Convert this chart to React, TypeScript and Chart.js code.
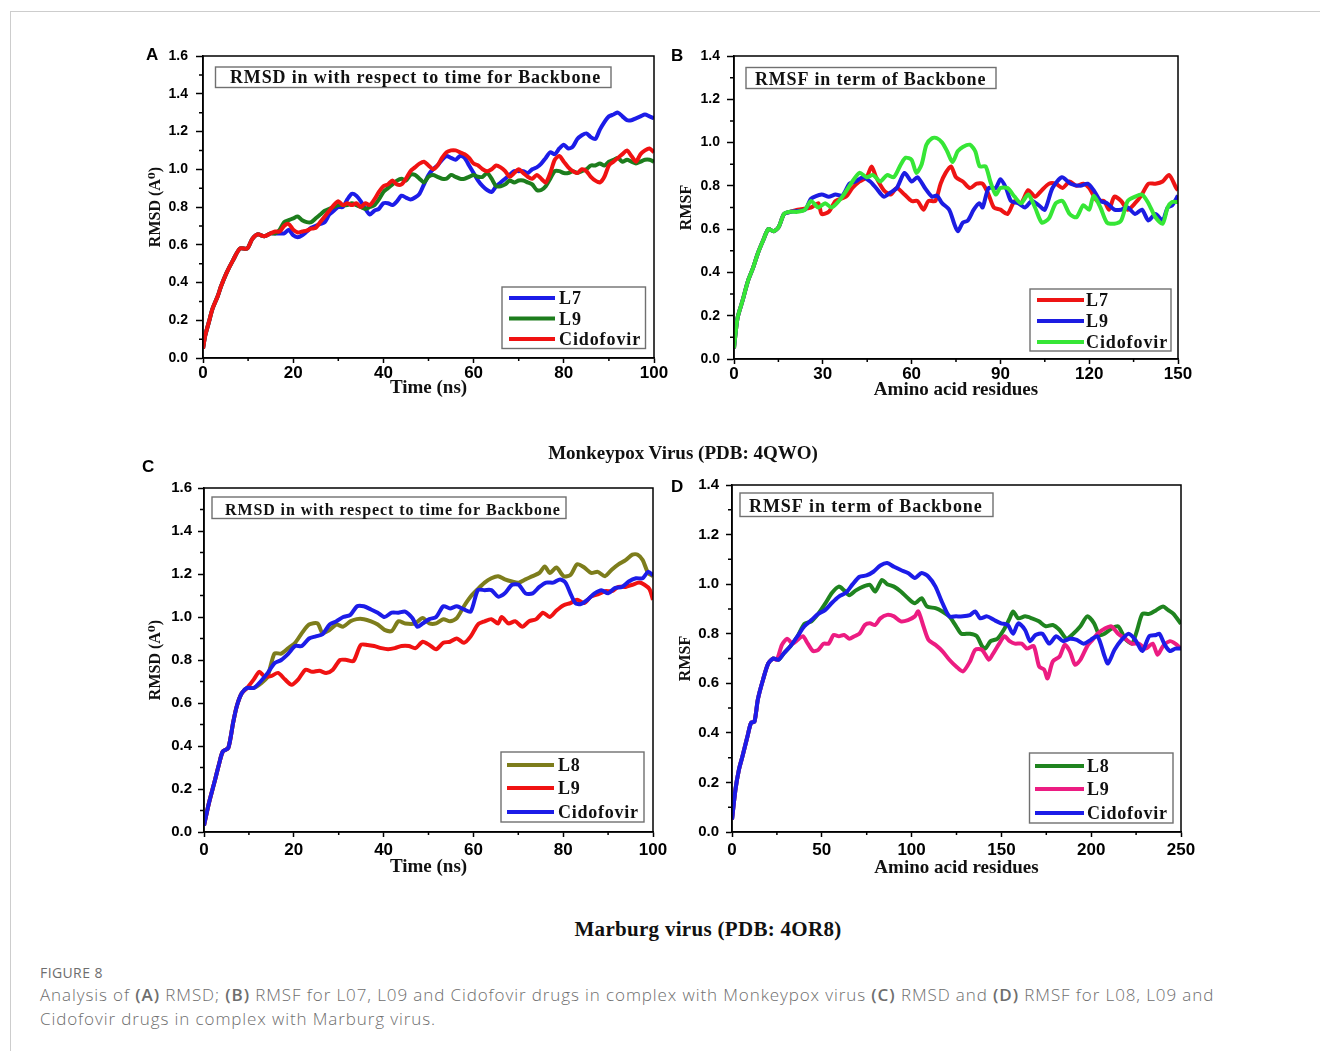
import React, { useEffect, useRef } from 'react';
import { Chart, registerables } from 'chart.js';
Chart.register(...registerables);

type Pt = [number, number];

// ---------- Panel A: RMSD, Monkeypox ----------
const A_START: Pt[] = [[0,0.05],[0.5,0.12],[1.3,0.19],[2.1,0.26],[3.3,0.33],[4,0.38],[5.2,0.45],[6.7,0.52],[8.2,0.58],[9.8,0.58],[10.9,0.63],[12.1,0.655],[13.6,0.645],[15,0.66]];
const A_L7: Pt[] = [...A_START,[16,0.66],[17,0.66],[18,0.66],[19,0.68],[20,0.65],[21,0.64],[22,0.65],[23,0.67],[24,0.69],[25,0.7],[26,0.71],[27,0.72],[28,0.76],[29,0.78],[30,0.8],[31,0.8],[32,0.84],[33,0.87],[34,0.86],[35,0.83],[36,0.79],[37,0.76],[38,0.78],[39,0.79],[40,0.82],[41,0.82],[42,0.81],[43,0.83],[44,0.86],[45,0.85],[46,0.84],[47,0.85],[48,0.87],[49,0.92],[50,0.97],[51,1.0],[52,1.02],[53,1.05],[54,1.07],[55,1.06],[56,1.05],[57,1.07],[58,1.06],[59,1.02],[60,0.98],[61,0.94],[62,0.91],[63,0.89],[64,0.88],[65,0.91],[66,0.93],[67,0.95],[68,0.97],[69,0.99],[70,0.99],[71,0.99],[72,0.98],[73,1.0],[74,1.01],[75,1.03],[76,1.06],[77,1.09],[78,1.08],[79,1.11],[80,1.13],[81,1.11],[82,1.12],[83,1.16],[84,1.18],[85,1.19],[86,1.17],[87,1.16],[88,1.21],[89,1.25],[90,1.28],[91,1.29],[92,1.3],[93,1.28],[94,1.26],[95,1.26],[96,1.27],[97,1.28],[98,1.29],[99,1.28],[100,1.27]];
const A_L9: Pt[] = [...A_START,[16,0.66],[17,0.68],[18,0.72],[19,0.73],[20,0.74],[21,0.75],[22,0.73],[23,0.72],[24,0.72],[25,0.74],[26,0.76],[27,0.78],[28,0.79],[29,0.8],[30,0.81],[31,0.81],[32,0.81],[33,0.82],[34,0.81],[35,0.8],[36,0.79],[37,0.8],[38,0.81],[39,0.84],[40,0.88],[41,0.9],[42,0.92],[43,0.94],[44,0.95],[45,0.94],[46,0.97],[47,0.97],[48,0.95],[49,0.93],[50,0.96],[51,0.97],[52,0.96],[53,0.95],[54,0.95],[55,0.97],[56,0.96],[57,0.95],[58,0.95],[59,0.96],[60,0.97],[61,0.96],[62,0.96],[63,0.98],[64,0.95],[65,0.91],[66,0.91],[67,0.92],[68,0.94],[69,0.93],[70,0.94],[71,0.94],[72,0.93],[73,0.92],[74,0.89],[75,0.89],[76,0.91],[77,0.95],[78,0.99],[79,0.99],[80,0.98],[81,0.98],[82,0.99],[83,0.98],[84,0.99],[85,1.0],[86,1.02],[87,1.02],[88,1.03],[89,1.02],[90,1.04],[91,1.05],[92,1.06],[93,1.04],[94,1.05],[95,1.04],[96,1.03],[97,1.04],[98,1.05],[99,1.05],[100,1.04]];
const A_CIDO: Pt[] = [...A_START,[16,0.67],[17,0.67],[18,0.7],[19,0.71],[20,0.68],[21,0.665],[22,0.67],[23,0.675],[24,0.685],[25,0.69],[26,0.72],[27,0.75],[28,0.78],[29,0.81],[30,0.83],[31,0.81],[32,0.82],[33,0.81],[34,0.82],[35,0.8],[36,0.82],[37,0.81],[38,0.84],[39,0.88],[40,0.91],[41,0.92],[42,0.94],[43,0.92],[44,0.92],[45,0.95],[46,0.99],[47,1.01],[48,1.03],[49,1.04],[50,1.02],[51,1.0],[52,1.02],[53,1.06],[54,1.09],[55,1.1],[56,1.1],[57,1.09],[58,1.08],[59,1.06],[60,1.03],[61,1.02],[62,1.0],[63,0.99],[64,1.0],[65,1.02],[66,1.01],[67,0.99],[68,0.96],[69,0.98],[70,1.0],[71,0.98],[72,0.96],[73,0.95],[74,0.97],[75,0.95],[76,0.93],[77,0.98],[78,1.05],[79,1.07],[80,1.04],[81,1.01],[82,0.99],[83,0.98],[84,1.0],[85,0.99],[86,0.96],[87,0.94],[88,0.93],[89,0.96],[90,1.02],[91,1.04],[92,1.06],[93,1.08],[94,1.1],[95,1.07],[96,1.04],[97,1.08],[98,1.1],[99,1.11],[100,1.09]];

// ---------- Panel B: RMSF, Monkeypox ----------
const B_START: Pt[] = [[0,0.05],[1.2,0.19],[2.9,0.27],[4.7,0.36],[6.4,0.42],[8.1,0.49],[9.9,0.55],[11.6,0.6],[13.4,0.59],[15.1,0.61],[16.9,0.67],[19,0.68]];
const B_L7: Pt[] = [...B_START,[21.5,0.69],[26,0.7],[28.5,0.72],[29.6,0.67],[32,0.68],[34.3,0.73],[37.8,0.75],[40,0.79],[42.4,0.82],[44.8,0.84],[46.5,0.89],[48,0.84],[50.6,0.78],[52.9,0.76],[55,0.79],[57.6,0.76],[60,0.73],[62,0.73],[64,0.69],[65.7,0.73],[68,0.73],[69.8,0.81],[71.5,0.86],[73.3,0.89],[75,0.84],[77.3,0.82],[79.7,0.79],[82,0.81],[84,0.81],[86,0.76],[87.8,0.7],[90,0.69],[92.4,0.67],[94.8,0.73],[97,0.72],[99.4,0.78],[101.7,0.75],[104,0.78],[106.4,0.81],[108.7,0.81],[111,0.79],[113.4,0.82],[115.7,0.8],[118,0.81],[120,0.79],[122.7,0.73],[125,0.73],[126.7,0.69],[128.5,0.75],[130.8,0.73],[133,0.69],[135.5,0.72],[137.8,0.76],[140,0.81],[142.4,0.81],[144.8,0.82],[147,0.85],[149.4,0.79],[150,0.78]];
const B_L9: Pt[] = [...B_START,[24,0.69],[26,0.74],[29.6,0.76],[32,0.75],[34.3,0.76],[36.6,0.755],[39,0.81],[41,0.82],[43.6,0.84],[46,0.82],[48,0.79],[50.6,0.75],[52.9,0.77],[55,0.79],[57.6,0.86],[60,0.82],[62,0.84],[64.5,0.79],[66.9,0.75],[68.6,0.755],[70.3,0.72],[72.7,0.69],[74.4,0.625],[75.6,0.59],[77.3,0.63],[79,0.64],[81,0.69],[82.9,0.72],[84,0.7],[86,0.79],[88.4,0.79],[90,0.83],[91.9,0.79],[93.6,0.73],[96,0.72],[98.3,0.7],[100.6,0.73],[103,0.71],[105,0.69],[107.6,0.79],[110.8,0.84],[113.7,0.81],[117,0.8],[119.5,0.81],[121.5,0.78],[123.8,0.73],[126,0.72],[128.5,0.69],[130.8,0.69],[133,0.7],[135.5,0.67],[137.8,0.69],[140,0.64],[142.4,0.67],[144.8,0.64],[146.5,0.7],[148,0.71],[150,0.755]];
const B_CIDO: Pt[] = [...B_START,[21.5,0.68],[24,0.69],[26,0.73],[28.5,0.7],[30.8,0.72],[33,0.7],[36.6,0.75],[40,0.82],[42.4,0.86],[44.8,0.84],[47,0.85],[49.4,0.82],[51.7,0.85],[54,0.84],[56.4,0.9],[58,0.93],[60,0.92],[61.6,0.86],[63.4,0.9],[65,0.99],[66.9,1.02],[68.6,1.02],[70.3,1.0],[72,0.96],[73.8,0.91],[75.6,0.96],[77.3,0.98],[79.7,0.99],[81.5,0.96],[83,0.89],[85,0.89],[86.6,0.82],[88.4,0.76],[90,0.79],[92.4,0.79],[94.8,0.75],[97,0.72],[99.4,0.76],[101.7,0.7],[104,0.63],[106.4,0.65],[108.7,0.72],[111,0.73],[113.4,0.67],[115.7,0.655],[118,0.71],[120,0.69],[121.5,0.755],[123.8,0.7],[126,0.63],[128.5,0.625],[130.8,0.64],[133,0.73],[135.5,0.75],[137.8,0.76],[140,0.72],[142.4,0.655],[144.8,0.625],[146.5,0.7],[148,0.725],[150,0.725]];

// ---------- Panel C: RMSD, Marburg ----------
const C_START: Pt[] = [[0,0.03],[1.1,0.135],[2.3,0.23],[3.4,0.32],[4.2,0.375],[5.4,0.39],[6.5,0.51],[7.3,0.585],[8.4,0.645],[9.6,0.67]];
const C_L8: Pt[] = [...C_START,[11.1,0.67],[12.6,0.69],[14.1,0.72],[15.7,0.83],[17.2,0.83],[18.8,0.855],[20.3,0.88],[21.8,0.925],[23.4,0.965],[25.3,0.97],[26.4,0.925],[28,0.94],[29.5,0.965],[31,0.955],[32.6,0.98],[34,0.99],[35.6,0.99],[37.2,0.98],[38.7,0.965],[40.2,0.94],[41.8,0.935],[43.3,0.98],[44.8,0.97],[47,0.97],[48.7,0.995],[50.2,0.97],[51.7,0.97],[53.3,0.99],[54.8,0.98],[56.3,0.995],[57.9,1.05],[59.4,1.095],[61,1.13],[62.5,1.16],[64,1.18],[65.5,1.19],[67,1.175],[68.6,1.165],[70.1,1.16],[71.6,1.175],[73.2,1.19],[74.7,1.205],[75.9,1.235],[77,1.205],[78.5,1.23],[80.1,1.19],[81.6,1.195],[83.1,1.245],[84.7,1.23],[86.2,1.205],[87.7,1.21],[89.3,1.19],[90.8,1.22],[92.3,1.245],[93.9,1.265],[95.4,1.29],[96.6,1.29],[97.7,1.265],[98.9,1.205],[100,1.19]];
const C_L9: Pt[] = [...C_START,[11.1,0.71],[12.3,0.745],[13.4,0.725],[14.9,0.725],[16.5,0.74],[18,0.71],[19.5,0.685],[21,0.71],[22.6,0.755],[24.1,0.745],[25.7,0.75],[27.2,0.74],[28.7,0.755],[30.3,0.8],[31.8,0.8],[33.3,0.795],[34.9,0.87],[36.4,0.87],[37.9,0.865],[39.5,0.855],[41,0.85],[42.5,0.855],[44,0.865],[45.6,0.865],[47.1,0.855],[48.7,0.885],[50.2,0.87],[51.7,0.85],[53.3,0.88],[54.8,0.885],[56.3,0.9],[57.9,0.88],[59.4,0.91],[61,0.965],[62.5,0.98],[64,0.99],[65.5,0.97],[66.3,1.0],[67.8,0.97],[69.3,0.98],[70.9,0.955],[72.4,0.98],[74,0.99],[75.5,1.02],[77,1.0],[78.5,1.03],[80.1,1.055],[81.6,1.065],[83.1,1.08],[84.7,1.065],[86.2,1.095],[87.7,1.105],[89.3,1.12],[90.8,1.12],[92.3,1.14],[93.9,1.14],[95.4,1.15],[96.9,1.16],[98.1,1.15],[99.2,1.13],[100,1.08]];
const C_CIDO: Pt[] = [...C_START,[11.1,0.67],[12.6,0.7],[14.2,0.74],[15.7,0.785],[17.2,0.8],[18.8,0.83],[20.3,0.865],[21.8,0.865],[23.4,0.9],[24.9,0.91],[26.4,0.92],[28,0.965],[29.5,0.98],[31,1.0],[32.6,1.01],[34.1,1.05],[35.6,1.05],[37.2,1.035],[38.7,1.02],[40.2,1.0],[41.8,1.02],[43.3,1.02],[44.8,1.025],[46.4,0.995],[47.5,0.955],[48.7,0.97],[50.2,0.99],[51.7,1.0],[53.3,1.05],[54.8,1.04],[56.3,1.05],[57.9,1.035],[59.4,1.025],[61,1.125],[62.5,1.125],[64,1.125],[65.5,1.095],[67,1.11],[68.6,1.15],[70.1,1.15],[71.6,1.11],[73.2,1.11],[74.7,1.14],[76.2,1.16],[77.8,1.16],[79.3,1.175],[80.5,1.16],[81.6,1.11],[82.7,1.065],[83.9,1.06],[85.4,1.08],[87,1.11],[88.5,1.125],[90,1.11],[91.5,1.135],[93.1,1.14],[94.6,1.165],[96.2,1.18],[97.7,1.18],[98.9,1.21],[100,1.195]];

// ---------- Panel D: RMSF, Marburg ----------
const D_START: Pt[] = [[0,0.05],[1.9,0.17],[3.8,0.25],[5.8,0.305],[8.6,0.385],[10.6,0.44],[12.5,0.445],[14.4,0.535],[17.3,0.615],[20.2,0.68],[23,0.7]];
const D_L8: Pt[] = [...D_START,[25.9,0.695],[28.8,0.72],[32.6,0.75],[36.5,0.79],[40.3,0.84],[44.2,0.85],[48,0.88],[51.8,0.92],[55.7,0.965],[59.5,0.99],[62.4,0.975],[65.3,0.955],[69,0.975],[73,0.99],[76.8,0.997],[79.7,0.97],[83.5,1.017],[86.4,1.0],[90.2,0.99],[94,0.97],[98,0.943],[101.8,0.923],[105.6,0.943],[108.5,0.91],[113.3,0.903],[117.1,0.89],[121,0.87],[124.8,0.83],[127.7,0.8],[132.5,0.8],[136.3,0.79],[139.2,0.75],[141,0.74],[144,0.77],[147.8,0.78],[151.7,0.82],[154.6,0.862],[156.5,0.89],[159.4,0.862],[163.2,0.87],[167,0.862],[170.9,0.85],[174.7,0.83],[178.6,0.835],[182.4,0.815],[186.2,0.78],[190,0.8],[194,0.83],[197.8,0.87],[201.6,0.842],[204.5,0.795],[207.4,0.8],[211.2,0.82],[215,0.83],[218.9,0.78],[222.7,0.76],[225.6,0.815],[228.5,0.88],[232.3,0.88],[236.2,0.895],[240,0.91],[242.9,0.895],[245.8,0.88],[250,0.84]];
const D_L9: Pt[] = [...D_START,[25,0.695],[27.8,0.755],[30.7,0.78],[33.6,0.76],[36.5,0.775],[39.4,0.79],[42.2,0.76],[45.1,0.73],[48,0.735],[51,0.76],[53.8,0.76],[56.6,0.795],[59.5,0.79],[62.4,0.795],[65.3,0.78],[68.2,0.79],[71,0.8],[74,0.835],[76.8,0.842],[79.7,0.835],[82.6,0.862],[86.4,0.876],[90.2,0.87],[94,0.85],[98,0.855],[101.8,0.87],[103.7,0.89],[106.6,0.83],[109.4,0.775],[113.3,0.755],[117.1,0.73],[121,0.695],[124.8,0.668],[128.6,0.648],[132.5,0.688],[135.4,0.735],[139.2,0.735],[143,0.695],[145,0.715],[148.8,0.76],[151.7,0.79],[154.6,0.77],[157.5,0.76],[161.3,0.76],[164.2,0.74],[168,0.75],[171,0.668],[173.8,0.655],[175.7,0.62],[178.6,0.688],[182.4,0.708],[185.3,0.755],[188.2,0.728],[191,0.675],[194,0.695],[197.8,0.75],[200.7,0.775],[203.5,0.8],[207.4,0.82],[211.2,0.83],[215,0.8],[218.9,0.78],[222.7,0.76],[226.5,0.76],[230.4,0.74],[234.2,0.76],[237,0.715],[240,0.75],[243.9,0.77],[246.8,0.76],[250,0.74]];
const D_CIDO: Pt[] = [...D_START,[25.9,0.695],[28.8,0.72],[32.6,0.75],[36.5,0.79],[40.3,0.83],[44.2,0.855],[48,0.88],[51.8,0.895],[55.7,0.925],[59.5,0.95],[63.4,0.965],[67.2,1.0],[71,1.03],[74.9,1.035],[78.7,1.05],[82.6,1.075],[86.4,1.085],[90.2,1.07],[94,1.057],[98,1.045],[101.8,1.025],[105.6,1.045],[109.4,1.03],[113.3,0.99],[117.1,0.925],[121,0.87],[124.8,0.87],[128.6,0.87],[132.5,0.875],[135.4,0.89],[138.2,0.862],[142,0.87],[146,0.855],[149.8,0.842],[153.6,0.835],[156.5,0.8],[159.4,0.842],[163.2,0.815],[166,0.77],[169,0.795],[172.8,0.8],[176.6,0.76],[180.5,0.79],[184.3,0.77],[188.2,0.78],[192,0.775],[195.8,0.76],[199.7,0.775],[203.5,0.79],[207.4,0.71],[209.3,0.68],[213,0.735],[216.9,0.775],[220.8,0.8],[224.6,0.775],[228.5,0.73],[232.3,0.79],[236.2,0.795],[238,0.8],[241,0.755],[243.9,0.73],[246.8,0.74],[250,0.74]];

// ---------- labels ----------
const LEGEND_A = ['L7', 'L9', 'Cidofovir'];
const LEGEND_C = ['L8', 'L9', 'Cidofovir'];
const TITLE_RMSD = 'RMSD in with respect to time for Backbone';
const TITLE_RMSF = 'RMSF in term of Backbone';
const X_TIME = 'Time (ns)';
const X_RES = 'Amino acid residues';
const Y_RMSD = 'RMSD (A\u2070)';
const Y_RMSF = 'RMSF';

const SERIF = '"Liberation Serif", "Times New Roman", "DejaVu Serif", serif';
const SANS = '"Liberation Sans", Arial, sans-serif';

interface Series { label: string; data: Pt[]; color: string }
interface Spec {
  letter: string; letterX: number; letterY: number;
  canvas: { left: number; top: number; width: number; height: number };
  area: { l: number; t: number; r: number; b: number };
  xMax: number; xStep: number; yMax: number;
  xTitle: string; yTitle: string; xTitleY: number; yTitleX: number;
  yTickFont: number; yTickLen: number; yTickPad: number;
  xTickFont: number; xTickLen: number; xTickPad: number;
  series: Series[];
  title: { text: string; l: number; t: number; r: number; b: number; tx: number; ty: number; size: number; ls: number };
  legend: { l: number; t: number; r: number; b: number; rows: number[]; x0: number; x1: number; tx: number; size: number; ls: number };
}

const SPECS: Spec[] = [
  {
    letter: 'A', letterX: 146, letterY: 60,
    canvas: { left: 136, top: 36, width: 556, height: 372 },
    area: { l: 203, t: 56, r: 654, b: 358 },
    xMax: 100, xStep: 20, yMax: 1.6,
    xTitle: X_TIME, yTitle: Y_RMSD, xTitleY: 388, yTitleX: 156,
    yTickFont: 14, yTickLen: 7, yTickPad: 8, xTickFont: 17, xTickLen: 5, xTickPad: 0,
    series: [
      { label: LEGEND_A[0], data: A_L7, color: '#1c1ce8' },
      { label: LEGEND_A[1], data: A_L9, color: '#1d7d1d' },
      { label: LEGEND_A[2], data: A_CIDO, color: '#f01212' },
    ],
    title: { text: TITLE_RMSD, l: 215.5, t: 67, r: 611, b: 87.5, tx: 230, ty: 83, size: 18, ls: 0.85 },
    legend: { l: 502, t: 287, r: 645.5, b: 348.5, rows: [298, 318.5, 339], x0: 509, x1: 555, tx: 559, size: 18, ls: 0.9 },
  },
  {
    letter: 'B', letterX: 671, letterY: 61,
    canvas: { left: 668, top: 36, width: 540, height: 372 },
    area: { l: 734, t: 56, r: 1178, b: 359 },
    xMax: 150, xStep: 30, yMax: 1.4,
    xTitle: X_RES, yTitle: Y_RMSF, xTitleY: 390, yTitleX: 687,
    yTickFont: 14, yTickLen: 7, yTickPad: 7, xTickFont: 17, xTickLen: 5, xTickPad: 0,
    series: [
      { label: LEGEND_A[0], data: B_L7, color: '#ee1414' },
      { label: LEGEND_A[1], data: B_L9, color: '#1c1ce2' },
      { label: LEGEND_A[2], data: B_CIDO, color: '#36e636' },
    ],
    title: { text: TITLE_RMSF, l: 746, t: 67.5, r: 996, b: 88.5, tx: 755, ty: 84.5, size: 18, ls: 0.8 },
    legend: { l: 1030, t: 289, r: 1171, b: 351, rows: [300, 321, 342], x0: 1037, x1: 1084, tx: 1086, size: 18, ls: 0.9 },
  },
  {
    letter: 'C', letterX: 142, letterY: 472,
    canvas: { left: 136, top: 460, width: 556, height: 432 },
    area: { l: 204, t: 488, r: 653, b: 832 },
    xMax: 100, xStep: 20, yMax: 1.6,
    xTitle: X_TIME, yTitle: Y_RMSD, xTitleY: 867, yTitleX: 156,
    yTickFont: 15, yTickLen: 6, yTickPad: 6, xTickFont: 17, xTickLen: 5, xTickPad: 3,
    series: [
      { label: LEGEND_C[0], data: C_L8, color: '#7d7d1c' },
      { label: LEGEND_C[1], data: C_L9, color: '#f01212' },
      { label: LEGEND_C[2], data: C_CIDO, color: '#1c1ce8' },
    ],
    title: { text: TITLE_RMSD, l: 212, t: 497, r: 566, b: 518.5, tx: 225, ty: 515, size: 16, ls: 0.9 },
    legend: { l: 501, t: 752, r: 644, b: 822, rows: [765, 788, 812], x0: 507, x1: 554, tx: 558, size: 18, ls: 0.75 },
  },
  {
    letter: 'D', letterX: 671, letterY: 492,
    canvas: { left: 668, top: 465, width: 540, height: 427 },
    area: { l: 732, t: 485, r: 1181, b: 832 },
    xMax: 250, xStep: 50, yMax: 1.4,
    xTitle: X_RES, yTitle: Y_RMSF, xTitleY: 868, yTitleX: 686,
    yTickFont: 15, yTickLen: 6, yTickPad: 7, xTickFont: 17, xTickLen: 5, xTickPad: 3,
    series: [
      { label: LEGEND_C[0], data: D_L8, color: '#1f841f' },
      { label: LEGEND_C[1], data: D_L9, color: '#ec1c82' },
      { label: LEGEND_C[2], data: D_CIDO, color: '#1c1ce8' },
    ],
    title: { text: TITLE_RMSF, l: 740, t: 493, r: 993, b: 516.5, tx: 749, ty: 512, size: 18, ls: 0.9 },
    legend: { l: 1029.5, t: 753, r: 1173, b: 823, rows: [766, 789, 813], x0: 1035, x1: 1084, tx: 1087, size: 18, ls: 0.75 },
  },
];

function Panel({ spec }: { spec: Spec }) {
  const ref = useRef<HTMLCanvasElement | null>(null);
  useEffect(() => {
    const s = spec;
    const c = ref.current;
    if (!c) return;
    const ox = s.canvas.left, oy = s.canvas.top;
    const yW = s.area.l - s.canvas.left;
    const xH = s.canvas.top + s.canvas.height - s.area.b;
    const yTitleSize = 16, xTitleSize = 19;

    const decor = {
      id: 'decor' + s.letter,
      afterDraw(chart: any) {
        const ctx = chart.ctx as CanvasRenderingContext2D;
        const { left, top, right, bottom } = chart.chartArea;
        const xs = chart.scales.x, ys = chart.scales.y;
        ctx.save();
        ctx.strokeStyle = '#000';
        ctx.lineWidth = 1.5;
        ctx.strokeRect(left, top, right - left, bottom - top);
        ctx.beginPath();
        for (let v = s.xStep / 2; v < s.xMax; v += s.xStep) {
          const px = xs.getPixelForValue(v);
          ctx.moveTo(px, bottom);
          ctx.lineTo(px, bottom + 3);
        }
        for (let v = 0.1; v < s.yMax; v += 0.2) {
          const py = ys.getPixelForValue(v);
          ctx.moveTo(left, py);
          ctx.lineTo(left - 4, py);
        }
        ctx.stroke();

        const t = s.title;
        ctx.fillStyle = '#fff';
        ctx.fillRect(t.l - ox, t.t - oy, t.r - t.l, t.b - t.t);
        ctx.strokeStyle = '#707070';
        ctx.lineWidth = 1.4;
        ctx.strokeRect(t.l - ox, t.t - oy, t.r - t.l, t.b - t.t);
        ctx.fillStyle = '#111';
        ctx.font = `bold ${t.size}px ${SERIF}`;
        (ctx as any).letterSpacing = `${t.ls}px`;
        ctx.textAlign = 'left';
        ctx.textBaseline = 'alphabetic';
        ctx.fillText(t.text, t.tx - ox, t.ty - oy);

        const L = s.legend;
        ctx.fillStyle = '#fff';
        ctx.fillRect(L.l - ox, L.t - oy, L.r - L.l, L.b - L.t);
        ctx.strokeStyle = '#707070';
        ctx.lineWidth = 1.4;
        ctx.strokeRect(L.l - ox, L.t - oy, L.r - L.l, L.b - L.t);
        ctx.font = `bold ${L.size}px ${SERIF}`;
        (ctx as any).letterSpacing = `${L.ls}px`;
        s.series.forEach((sr, i) => {
          const y = L.rows[i] - oy;
          ctx.strokeStyle = sr.color;
          ctx.lineWidth = 4;
          ctx.beginPath();
          ctx.moveTo(L.x0 - ox, y);
          ctx.lineTo(L.x1 - ox, y);
          ctx.stroke();
          ctx.fillStyle = '#111';
          ctx.fillText(sr.label, L.tx - ox, y + 6);
        });

        (ctx as any).letterSpacing = '0px';
        ctx.fillStyle = '#000';
        ctx.font = `bold 17px ${SANS}`;
        ctx.fillText(s.letter, s.letterX - ox, s.letterY - oy);
        ctx.restore();
      },
    };

    const chart = new Chart(c, {
      type: 'line',
      data: {
        datasets: s.series.map((sr, i) => ({
          label: sr.label,
          data: sr.data as any,
          borderColor: sr.color,
          backgroundColor: sr.color,
          borderWidth: 4,
          pointRadius: 0,
          tension: 0.25,
          fill: false,
          order: s.series.length - 1 - i,
        })),
      },
      options: {
        animation: false,
        responsive: false,
        maintainAspectRatio: false,
        events: [],
        layout: {
          padding: {
            left: 0,
            top: s.area.t - s.canvas.top,
            right: s.canvas.left + s.canvas.width - s.area.r,
            bottom: 0,
          },
        },
        plugins: { legend: { display: false }, tooltip: { enabled: false }, title: { display: false } },
        scales: {
          x: {
            type: 'linear',
            min: 0,
            max: s.xMax,
            ticks: {
              stepSize: s.xStep,
              autoSkip: false,
              maxRotation: 0,
              color: '#000',
              padding: s.xTickPad,
              font: { family: SANS, size: s.xTickFont, weight: 'bold' },
              callback: (v: any) => String(Math.round(Number(v))),
            },
            grid: { drawOnChartArea: false, drawTicks: true, tickLength: s.xTickLen, tickColor: '#000', tickWidth: 1.5, color: '#000' },
            border: { display: true, color: '#000', width: 1.5 },
            title: {
              display: true,
              text: s.xTitle,
              color: '#111',
              font: { family: SERIF, size: xTitleSize, weight: 'bold' },
              padding: { top: 0, bottom: s.canvas.top + s.canvas.height - s.xTitleY - (xTitleSize * 1.2) / 2 },
            },
            afterFit: (sc: any) => { sc.height = xH; },
          },
          y: {
            type: 'linear',
            min: 0,
            max: s.yMax,
            ticks: {
              stepSize: 0.2,
              autoSkip: false,
              color: '#000',
              padding: s.yTickPad,
              font: { family: SANS, size: s.yTickFont, weight: 'bold' },
              callback: (v: any) => Number(v).toFixed(1),
            },
            grid: { drawOnChartArea: false, drawTicks: true, tickLength: s.yTickLen, tickColor: '#000', tickWidth: 1.5, color: '#000' },
            border: { display: true, color: '#000', width: 1.5 },
            title: {
              display: true,
              text: s.yTitle,
              color: '#111',
              font: { family: SERIF, size: yTitleSize, weight: 'bold' },
              padding: { top: s.yTitleX - s.canvas.left - (yTitleSize * 1.2) / 2, bottom: 0 },
            },
            afterFit: (sc: any) => { sc.width = yW; },
          },
        },
      } as any,
      plugins: [decor],
    });
    return () => chart.destroy();
  }, [spec]);

  return (
    <canvas
      ref={ref}
      width={spec.canvas.width}
      height={spec.canvas.height}
      style={{ position: 'absolute', left: spec.canvas.left, top: spec.canvas.top, width: spec.canvas.width, height: spec.canvas.height }}
    />
  );
}

const HEAD_TOP = 'Monkeypox Virus (PDB: 4QWO)';
const HEAD_BOTTOM = 'Marburg virus (PDB: 4OR8)';

export default function App() {
  const cap = { fontFamily: '"Open Sans", "Noto Sans", sans-serif', color: '#6e6e6e' } as React.CSSProperties;
  const bold = { fontWeight: 600 } as React.CSSProperties;
  return (
    <div style={{ position: 'absolute', left: 0, top: 0, width: 1320, height: 1051, background: '#fff', overflow: 'hidden' }}>
      <div style={{ position: 'absolute', left: 10, top: 11, width: 1320, height: 1060, borderTop: '1px solid #cdcdcd', borderLeft: '1px solid #cdcdcd' }} />
      {SPECS.map((s) => <Panel key={s.letter} spec={s} />)}
      <div style={{ position: 'absolute', left: 683, top: 443, transform: 'translateX(-50%)', whiteSpace: 'nowrap', fontFamily: SERIF, fontWeight: 'bold', fontSize: 19, lineHeight: '19px', color: '#111' }}>{HEAD_TOP}</div>
      <div style={{ position: 'absolute', left: 708, top: 919, transform: 'translateX(-50%)', whiteSpace: 'nowrap', fontFamily: SERIF, fontWeight: 'bold', fontSize: 21, lineHeight: '21px', letterSpacing: 0.3, color: '#111' }}>{HEAD_BOTTOM}</div>
      <div style={{ ...cap, position: 'absolute', left: 40, top: 966, fontSize: 14, lineHeight: '14px', letterSpacing: 0.4, whiteSpace: 'nowrap' }}>FIGURE 8</div>
      <div style={{ ...cap, position: 'absolute', left: 40, top: 983, width: 1270, fontSize: 17, lineHeight: '24px', fontWeight: 300, letterSpacing: 0.9, whiteSpace: 'nowrap' }}>
        Analysis of <b style={bold}>(A)</b> RMSD; <b style={bold}>(B)</b> RMSF for L07, L09 and Cidofovir drugs in complex with Monkeypox virus <b style={bold}>(C)</b> RMSD and <b style={bold}>(D)</b> RMSF for L08, L09 and
        <br />
        Cidofovir drugs in complex with Marburg virus.
      </div>
    </div>
  );
}
